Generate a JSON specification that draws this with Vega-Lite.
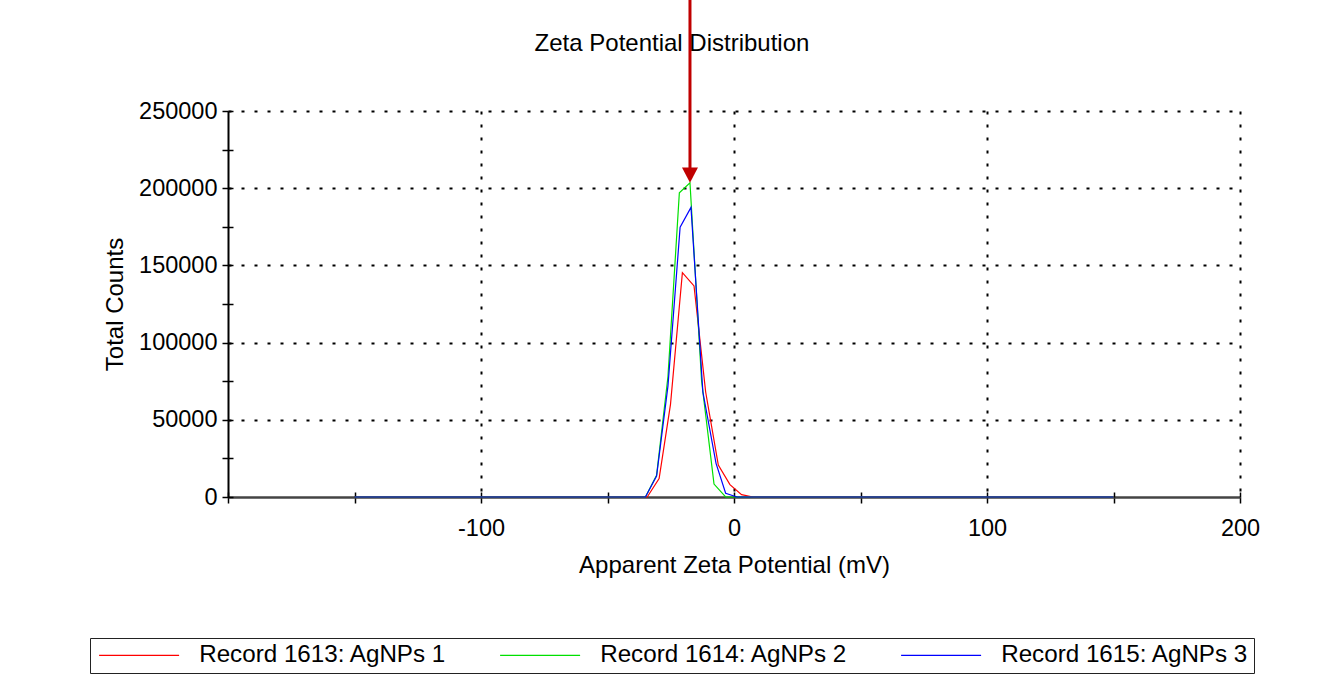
{
  "$schema": "https://vega.github.io/schema/vega-lite/v6.json",
  "width": 1012,
  "height": 386,
  "autosize": {"type": "none"},
  "padding": {"left": 228, "top": 111, "right": 82, "bottom": 190},
  "background": "white",
  "title": {
    "text": "Zeta Potential Distribution",
    "anchor": "middle",
    "frame": "group",
    "dx": -62,
    "offset": -89,
    "baseline": "alphabetic",
    "font": "Liberation Sans",
    "fontSize": 24,
    "fontWeight": "normal",
    "color": "black"
  },
  "config": {
    "view": {"stroke": null},
    "font": "Liberation Sans",
    "axis": {
      "labelFont": "Liberation Sans",
      "labelFontSize": 23.5,
      "labelColor": "black",
      "titleFont": "Liberation Sans",
      "titleFontSize": 24,
      "titleFontWeight": "normal",
      "titleColor": "black",
      "tickColor": "black",
      "tickWidth": 1.5,
      "gridColor": "black",
      "gridDash": [3, 10],
      "gridWidth": 2,
      "labelFlush": false,
      "labelOverlap": false
    }
  },
  "datasets": {
    "series": [
      {"record": "Record 1613: AgNPs 1", "mV": -150, "counts": 0},
      {"record": "Record 1613: AgNPs 1", "mV": -34.3, "counts": 0},
      {"record": "Record 1613: AgNPs 1", "mV": -29.6, "counts": 12000},
      {"record": "Record 1613: AgNPs 1", "mV": -25.1, "counts": 60000},
      {"record": "Record 1613: AgNPs 1", "mV": -20.4, "counts": 145300},
      {"record": "Record 1613: AgNPs 1", "mV": -15.8, "counts": 136700},
      {"record": "Record 1613: AgNPs 1", "mV": -11.2, "counts": 68000},
      {"record": "Record 1613: AgNPs 1", "mV": -6.2, "counts": 20700},
      {"record": "Record 1613: AgNPs 1", "mV": -1.6, "counts": 8000},
      {"record": "Record 1613: AgNPs 1", "mV": 3.0, "counts": 1500},
      {"record": "Record 1613: AgNPs 1", "mV": 7.5, "counts": 0},
      {"record": "Record 1613: AgNPs 1", "mV": 150, "counts": 0},
      {"record": "Record 1614: AgNPs 2", "mV": -150, "counts": 0},
      {"record": "Record 1614: AgNPs 2", "mV": -35.0, "counts": 0},
      {"record": "Record 1614: AgNPs 2", "mV": -30.6, "counts": 14000},
      {"record": "Record 1614: AgNPs 2", "mV": -26.1, "counts": 78000},
      {"record": "Record 1614: AgNPs 2", "mV": -21.6, "counts": 197000},
      {"record": "Record 1614: AgNPs 2", "mV": -17.4, "counts": 203500},
      {"record": "Record 1614: AgNPs 2", "mV": -12.8, "counts": 75000},
      {"record": "Record 1614: AgNPs 2", "mV": -7.9, "counts": 8400},
      {"record": "Record 1614: AgNPs 2", "mV": -3.3, "counts": 0},
      {"record": "Record 1614: AgNPs 2", "mV": 150, "counts": 0},
      {"record": "Record 1615: AgNPs 3", "mV": -150, "counts": 0},
      {"record": "Record 1615: AgNPs 3", "mV": -35.0, "counts": 0},
      {"record": "Record 1615: AgNPs 3", "mV": -30.6, "counts": 13500},
      {"record": "Record 1615: AgNPs 3", "mV": -26.1, "counts": 72000},
      {"record": "Record 1615: AgNPs 3", "mV": -21.3, "counts": 174700},
      {"record": "Record 1615: AgNPs 3", "mV": -17.0, "counts": 187600},
      {"record": "Record 1615: AgNPs 3", "mV": -12.3, "counts": 68000},
      {"record": "Record 1615: AgNPs 3", "mV": -7.1, "counts": 21800},
      {"record": "Record 1615: AgNPs 3", "mV": -3.3, "counts": 2400},
      {"record": "Record 1615: AgNPs 3", "mV": 1.2, "counts": 0},
      {"record": "Record 1615: AgNPs 3", "mV": 150, "counts": 0}
    ],
    "arrow": [
      {"mV": -17.4, "tip": 203500, "from": 212000, "to": 330000}
    ]
  },
  "layer": [
    {
      "data": {"name": "series"},
      "mark": {"type": "line", "strokeWidth": 1.2},
      "encoding": {
        "x": {
          "field": "mV", "type": "quantitative",
          "scale": {"domain": [-200, 200], "nice": false, "zero": false},
          "axis": {
            "orient": "bottom",
            "values": [-200, -150, -100, -50, 0, 50, 100, 150, 200],
            "labelExpr": "(datum.value % 100 == 0 && datum.value > -200) ? '' + datum.value : ''",
            "grid": true,
            "gridOpacity": {"condition": {"test": "datum.value % 100 == 0 && datum.value > -200", "value": 1}, "value": 0},
            "tickSize": 6,
            "labelPadding": 13,
            "domainColor": "#444",
            "domainWidth": 2.5,
            "title": "Apparent Zeta Potential (mV)",
            "titlePadding": 14
          }
        },
        "y": {
          "field": "counts", "type": "quantitative",
          "scale": {"domain": [0, 250000], "nice": false},
          "axis": {
            "orient": "left",
            "values": [0, 25000, 50000, 75000, 100000, 125000, 150000, 175000, 200000, 225000, 250000],
            "labelExpr": "datum.value % 50000 == 0 ? '' + datum.value : ''",
            "grid": true,
            "gridOpacity": {"condition": {"test": "datum.value % 50000 == 0 && datum.value > 0", "value": 1}, "value": 0},
            "tickSize": 6,
            "labelPadding": 5,
            "domainColor": "black",
            "domainWidth": 2,
            "title": "Total Counts",
            "titlePadding": 11
          }
        },
        "color": {
          "field": "record", "type": "nominal",
          "scale": {
            "domain": ["Record 1613: AgNPs 1", "Record 1614: AgNPs 2", "Record 1615: AgNPs 3"],
            "range": ["#ff0000", "#00e000", "#0000ff"]
          },
          "legend": {
            "orient": "none",
            "legendX": -138,
            "legendY": 527,
            "direction": "horizontal",
            "columns": 3,
            "columnPadding": 49,
            "symbolType": "M-5,0L5,0",
            "symbolSize": 256,
            "symbolStrokeWidth": 1.2,
            "symbolOffset": 32,
            "labelOffset": 48,
            "labelFont": "Liberation Sans",
            "labelFontSize": 24.2,
            "labelColor": "black",
            "labelLimit": 400,
            "padding": 5,
            "strokeColor": "#222",
            "fillColor": "white",
            "title": null
          }
        }
      }
    },
    {
      "data": {"name": "series"},
      "mark": {"type": "point", "opacity": 0},
      "encoding": {
        "x": {
          "field": "mV", "type": "quantitative",
          "scale": {"domain": [-200, 200], "nice": false, "zero": false},
          "axis": {
            "orient": "top",
            "offset": -386,
            "values": [-200, -150, -100, -50, 0, 50, 100, 150, 200],
            "labels": false,
            "domain": false,
            "grid": false,
            "tickSize": 5,
            "title": null
          }
        },
        "y": {
          "field": "counts", "type": "quantitative",
          "scale": {"domain": [0, 250000], "nice": false},
          "axis": {
            "orient": "right",
            "offset": -1012,
            "values": [0, 25000, 50000, 75000, 100000, 125000, 150000, 175000, 200000, 225000, 250000],
            "labels": false,
            "domain": false,
            "grid": false,
            "tickSize": 5,
            "title": null
          }
        }
      }
    },
    {
      "data": {"name": "arrow"},
      "mark": {"type": "rule", "clip": false, "color": "#c00000", "strokeWidth": 3},
      "encoding": {
        "x": {"field": "mV", "type": "quantitative", "scale": {"domain": [-200, 200], "nice": false, "zero": false}, "axis": null},
        "y": {"field": "from", "type": "quantitative", "scale": {"domain": [0, 250000], "nice": false}, "axis": null},
        "y2": {"field": "to"}
      }
    },
    {
      "data": {"name": "arrow"},
      "mark": {"type": "point", "clip": false, "shape": "M-1,-1.9L1,-1.9L0,0Z", "filled": true, "color": "#c00000", "opacity": 1, "size": 256},
      "encoding": {
        "x": {"field": "mV", "type": "quantitative", "scale": {"domain": [-200, 200], "nice": false, "zero": false}, "axis": null},
        "y": {"field": "tip", "type": "quantitative", "scale": {"domain": [0, 250000], "nice": false}, "axis": null}
      }
    }
  ],
  "resolve": {"axis": {"x": "independent", "y": "independent"}}
}
